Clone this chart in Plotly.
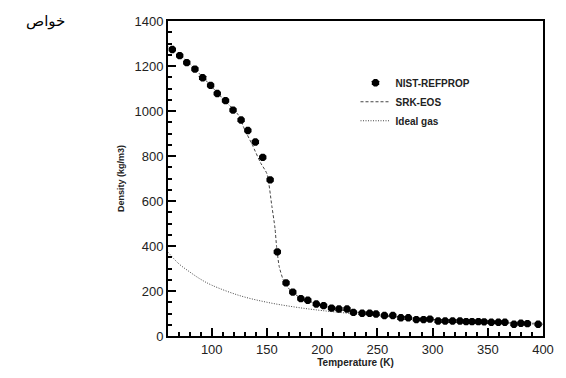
import plotly.graph_objects as go

# NIST-REFPROP data points (Temperature K, Density kg/m3)
nist_T = [64.3, 71, 77.4, 84.8, 91.8, 99, 105, 112.5, 119.3, 126.6, 132.7, 139.5, 146.2, 152.9,
          159.4, 167.3, 173.4, 180.7, 187, 194.7, 201.3, 208.5, 215.2, 222.5, 228.3, 236.2, 243,
          248.8, 256.4, 264, 271.3, 278, 285.3, 291.8, 297.6, 305, 311.4, 318.1, 324.8, 330.4,
          335.7, 341.5, 346.7, 353.2, 359.6, 365.5, 373.7, 380, 385.9, 395.6]
nist_rho = [1273, 1246, 1215, 1186, 1148, 1114, 1078, 1046, 1004, 960, 913, 862, 794, 694,
            374, 236, 195, 166, 159, 142, 135, 124, 120, 120, 105, 101, 101,
            98, 91, 91, 81, 81, 73, 73, 75, 67, 67, 67, 67, 64,
            64, 64, 63, 61, 61, 61, 52, 57, 55, 52]

# SRK-EOS curve
srk_T = [61, 70, 80, 90, 100, 110, 123.7, 129.5, 136.8, 144.1, 150.0, 154.4, 157.3, 158.8,
         161.1, 164.6, 170, 180, 200, 225, 250, 300, 350, 400]
srk_rho = [1285, 1252, 1210, 1160, 1108, 1055, 985, 921, 849, 771, 721, 579, 479, 394,
           309, 252, 210, 170, 135, 110, 95, 74, 62, 52]

# Ideal gas curve
ideal_T = [60.5, 70, 80, 90, 100, 125, 150, 175, 200, 250, 300, 350, 400]
ideal_rho = [372, 322, 285, 252, 226, 180, 150, 129, 113, 90, 75, 64, 56]

fig = go.Figure()
fig.add_trace(go.Scatter(x=srk_T, y=srk_rho, mode="lines", name="SRK-EOS", legendrank=2,
                         line=dict(color="#444444", width=1, dash="3px,2px", shape="spline", smoothing=0.6)))
fig.add_trace(go.Scatter(x=ideal_T, y=ideal_rho, mode="lines", name="Ideal gas", legendrank=3,
                         line=dict(color="#444444", width=1, dash="1px,1.5px", shape="spline")))
fig.add_trace(go.Scatter(x=nist_T, y=nist_rho, mode="markers", name="NIST-REFPROP", legendrank=1,
                         marker=dict(symbol="octagon", size=8, color="black")))

font_fam = "Liberation Sans, Arial"
axis_common = dict(
    showline=True, linecolor="black", linewidth=2, mirror=True,
    ticks="inside", ticklen=8, tickwidth=2, tickcolor="black",
    showgrid=False, zeroline=False,
    tickfont=dict(family=font_fam, size=13, color="#222"),
)

fig.update_xaxes(range=[60.4, 400], tickmode="linear", tick0=0, dtick=50,
                 minor=dict(tickmode="linear", tick0=0, dtick=10, ticks="inside", ticklen=4,
                            tickcolor="black", tickwidth=1.5),
                 title=dict(text="<b>Temperature (K)</b>", font=dict(family=font_fam, size=10, color="#222"),
                            standoff=2),
                 **axis_common)
fig.update_yaxes(range=[0, 1400], tickmode="linear", tick0=0, dtick=200,
                 minor=dict(tickmode="linear", tick0=0, dtick=50, ticks="inside", ticklen=4,
                            tickcolor="black", tickwidth=1.5),
                 title=dict(text="<b>Density (kg/m3)</b>", font=dict(family=font_fam, size=9, color="#222"),
                            standoff=8),
                 **axis_common)

fig.update_layout(
    width=566, height=378,
    margin=dict(l=168, r=12, t=21, b=29),
    plot_bgcolor="white", paper_bgcolor="white",
    legend=dict(x=0.50, y=0.85, xanchor="left", yanchor="top",
                traceorder="normal",
                font=dict(family=font_fam, size=10, color="#222", weight="bold"),
                bgcolor="rgba(0,0,0,0)"),
    annotations=[dict(text="خواص", xref="paper", yref="paper", x=-0.385, y=1.0,
                      xanchor="left", yanchor="middle", showarrow=False,
                      font=dict(family="DejaVu Sans", size=15, color="black"))],
)

fig.write_html("out.html")
